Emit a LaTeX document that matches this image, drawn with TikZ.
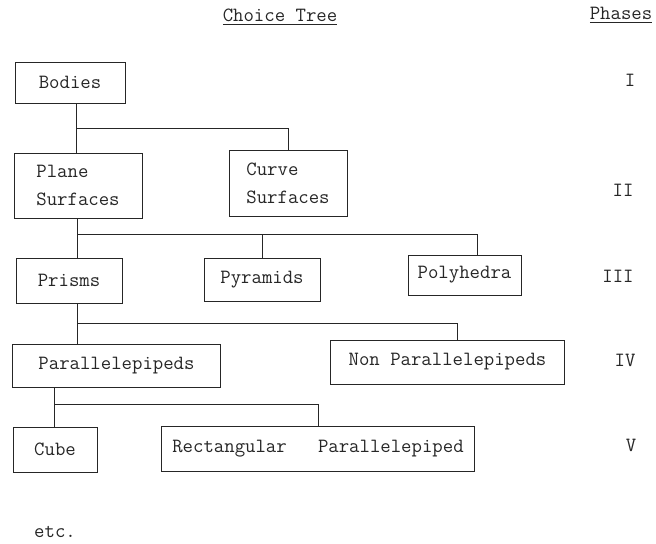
\documentclass[tikz,border=0pt]{standalone}
\usepackage{tikz}

\begin{document}
\begin{tikzpicture}[x=0.02cm, y=-0.02cm,
    every node/.style={font=\ttfamily\fontsize{11.5}{16}\selectfont, text=black!85},
    box/.style={draw=black!85, line width=0.55pt, inner sep=0pt, align=left},
    link/.style={draw=black!85, line width=0.55pt}]
            \useasboundingbox (0,0) rectangle (656,544);

            % Headings
            \node (title) at (280,17) {\underline{Choice Tree}};
            \node (phases) at (621,15) {\underline{Phases}};

            % Boxes of the choice tree
            \node[box, minimum width=2.2cm, minimum height=0.82cm] (bodies) at (70,82.5) {Bodies};
            \node[box, minimum width=2.56cm, minimum height=1.3cm] (plane) at (78,185.5) {Plane\\Surfaces};
            \node[box, minimum width=2.36cm, minimum height=1.32cm] (curve) at (288,183) {Curve\\Surfaces};
            \node[box, minimum width=2.12cm, minimum height=0.9cm] (prisms) at (69,280.5) {Prisms};
            \node[box, minimum width=2.32cm, minimum height=0.86cm] (pyramids) at (262,279.5) {Pyramids};
            \node[box, minimum width=2.26cm, minimum height=0.8cm] (polyhedra) at (464.5,275) {Polyhedra};
            \node[box, minimum width=4.18cm, minimum height=0.86cm] (parallel) at (116.5,365.5) {Parallelepipeds};
            \node[box, minimum width=4.7cm, minimum height=0.88cm] (nonparallel) at (447.5,362) {Non Parallelepipeds};
            \node[box, minimum width=1.68cm, minimum height=0.9cm] (cube) at (55,449.5) {Cube};
            \node[box, minimum width=6.28cm, minimum height=0.9cm] (rectangular) at (318,448.5) {Rectangular\ \ \ Parallelepiped};
            \node (etc) at (55,532) {etc.};

            % Phases
            \node (ph1) at (630,80) {I};
            \node (ph2) at (623,190) {II};
            \node (ph3) at (618,276) {III};
            \node (ph4) at (625,360) {IV};
            \node (ph5) at (631,445) {V};

            % Branch points
            \coordinate (j1) at (76,128);
            \coordinate (j2) at (77,234);
            \coordinate (t2) at (477,234);
            \coordinate (j3) at (77,323);
            \coordinate (t3) at (457,323);
            \coordinate (j4) at (54,404);

            % Connectors
            \draw[link] (bodies.south -| j1) -- (plane.north -| j1);
            \draw[link] (j1) -| (curve.north);
            \draw[link] (plane.south -| j2) -- (prisms.north -| j2);
            \draw[link] (j2) -- (t2) -- (t2 |- polyhedra.north);
            \draw[link] (j2 -| pyramids.north) -- (pyramids.north);
            \draw[link] (prisms.south -| j3) -- (parallel.north -| j3);
            \draw[link] (j3) -- (t3) -- (t3 |- nonparallel.north);
            \draw[link] (parallel.south -| j4) -- (cube.north -| j4);
            \draw[link] (j4) -| (rectangular.north);
        \end{tikzpicture}
\end{document}
